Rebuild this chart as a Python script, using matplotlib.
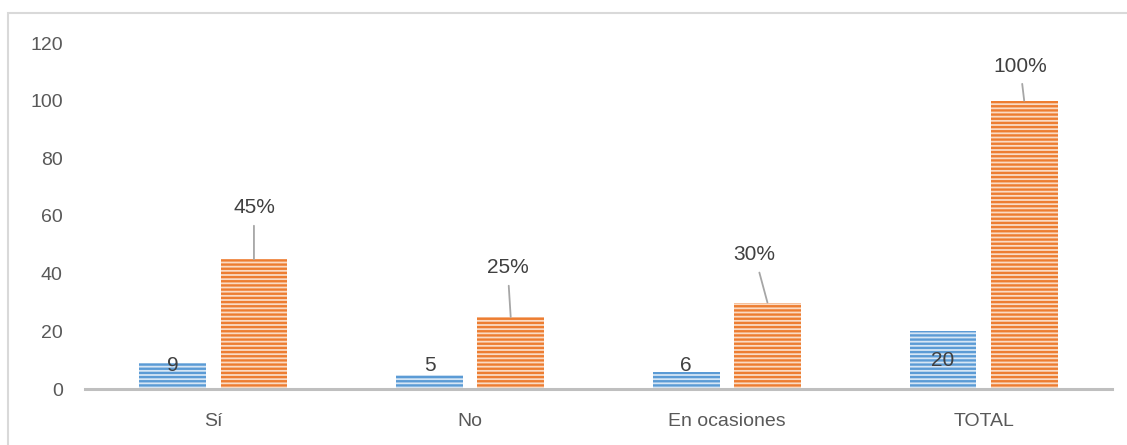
import numpy as np
import matplotlib.pyplot as plt
from matplotlib.patches import Rectangle

plt.rcParams['font.family'] = ['Liberation Sans', 'DejaVu Sans']
plt.rcParams['hatch.linewidth'] = 1.7

# Datos
categorias = ["Sí", "No", "En ocasiones", "TOTAL"]
frecuencia = [9, 5, 6, 20]
porcentaje = [45, 25, 30, 100]
etiquetas_pct = ["45%", "25%", "30%", "100%"]

# Posiciones de las etiquetas (desplazamiento x, altura de la etiqueta)
desp_pct = [0.0, -0.012, -0.05, -0.016]
alto_pct = [62.8, 42.0, 46.5, 112.0]
alto_frec = [8.3, 8.3, 8.3, 10.0]

fig = plt.figure(figsize=(11.27, 4.45), dpi=100)
ax = fig.add_axes([85 / 1127, 56 / 445, 1027 / 1127, 346 / 445])

# Marco exterior del gráfico
fig.patches.append(Rectangle((8 / 1127, -0.1), 1.2, (445 - 13) / 445 + 0.1,
                             transform=fig.transFigure, fill=False,
                             edgecolor="#D9D9D9", linewidth=1.5))

x = np.arange(len(categorias))
ancho = 0.26
sep = 0.158

ax.bar(x - sep, frecuencia, ancho, color="#D6E6F5", edgecolor="#5B9BD5",
       linewidth=0, hatch="----")
ax.bar(x + sep, porcentaje, ancho, color="#FADBC4", edgecolor="#ED7D31",
       linewidth=0, hatch="----")

# Etiquetas de la serie azul
for i in range(len(x)):
    ax.text(x[i] - sep, alto_frec[i], str(frecuencia[i]), ha="center", va="center",
            fontsize=15, color="#404040")

# Etiquetas de porcentaje con línea guía
for i in range(len(x)):
    lx = x[i] + sep + desp_pct[i]
    ax.annotate(etiquetas_pct[i], xy=(x[i] + sep, porcentaje[i]), xytext=(lx, alto_pct[i]),
                ha="center", va="center", fontsize=15, color="#404040",
                arrowprops=dict(arrowstyle="-", color="#A6A6A6", lw=1.3,
                                shrinkA=4, shrinkB=0))

ax.set_xlim(-0.5, 3.5)
ax.set_ylim(0, 120)
ax.set_yticks(range(0, 121, 20))
ax.set_xticks(x)
ax.set_xticklabels(categorias)

for s in ["top", "right", "left"]:
    ax.spines[s].set_visible(False)
ax.spines["bottom"].set_color("#BFBFBF")
ax.spines["bottom"].set_linewidth(2.2)

ax.tick_params(axis="both", length=0, labelsize=14, colors="#595959")
ax.tick_params(axis="y", pad=16)
ax.tick_params(axis="x", pad=17)

plt.savefig("out.png", dpi=100)
